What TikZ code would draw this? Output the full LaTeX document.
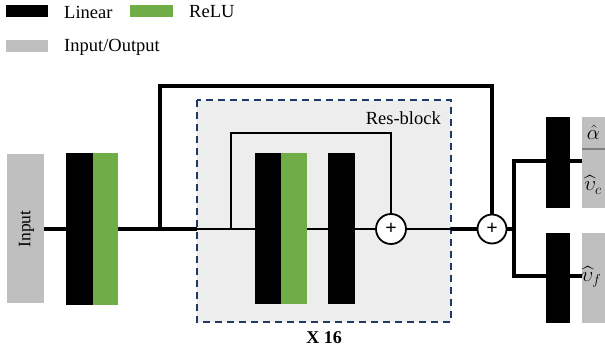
\documentclass[tikz,border=0pt]{standalone}
\usepackage{fontspec}
\setmainfont{Liberation Serif}
\usepackage{amsmath}
\begin{document}
\begin{tikzpicture}[x=1pt,y=-1pt,
  lin/.style={fill=black,draw=none},
  relu/.style={fill=reluGreen,draw=none},
  io/.style={fill=ioGray,draw=none},
  thick line/.style={line width=4.5pt},
  thin line/.style={line width=1.8pt},
  adder/.style={circle,draw=black,line width=1.8pt,fill=white,inner sep=0pt},
  plus/.style={font=\bfseries\fontsize{20}{22}\selectfont,inner sep=0pt},
  lbl/.style={font=\fontsize{18.5}{20}\selectfont,anchor=west,inner sep=0pt},
  mlbl/.style={font=\fontsize{19.5}{22}\selectfont,inner sep=0pt}]
\definecolor{reluGreen}{HTML}{70AD47}
\definecolor{ioGray}{HTML}{BFBFBF}
\definecolor{boxGray}{HTML}{EDEDED}
\definecolor{dashBlue}{HTML}{1F3864}
\useasboundingbox (0,0) rectangle (605,352);
% legend
\fill[lin] (6,5) rectangle (48,17);
\node[lbl] (tlin) at (64,12) {Linear};
\fill[relu] (130,5) rectangle (173,17);
\node[lbl] (trelu) at (189,12) {ReLU};
\fill[io] (6,40) rectangle (48,52);
\node[lbl] (tio) at (64,47) {Input/Output};
% res block background
\draw[fill=boxGray,draw=dashBlue,line width=1.8pt,dash pattern=on 7pt off 5pt] (197,100) rectangle (451,322);
\node[font=\fontsize{18.5}{20}\selectfont,anchor=east,inner sep=0pt] (rb) at (441,118) {Res-block};
\node[font=\bfseries\fontsize{18}{20}\selectfont,inner sep=0pt] (x16) at (324,338) {X 16};
% input
\fill[io] (7,154) rectangle (44,303);
\node[rotate=90,font=\fontsize{17.5}{20}\selectfont,inner sep=0pt] (inp) at (26.5,229) {Input};
% coordinates
\coordinate (inR) at (44,229);
\coordinate (l1L) at (66,229);
\coordinate (l1R) at (118,229);
\coordinate (br1) at (160,229);
\coordinate (br1t) at (160,86);
\coordinate (rbL) at (197,229);
\coordinate (rbR) at (451,229);
\coordinate (sk) at (231,229);
\coordinate (skt) at (231,133);
\coordinate (l2L) at (255,229);
\coordinate (l2R) at (307,229);
\coordinate (l3L) at (328,229);
\coordinate (l3R) at (355,229);
\coordinate (outv) at (514,229);
\coordinate (outt) at (514,161);
\coordinate (outb) at (514,276);
\coordinate (o1R) at (582,161);
\coordinate (o2R) at (582,276);
% adders
\node[adder,minimum size=30pt] (add1) at (391,229) {};
\node[adder,minimum size=29pt] (add2) at (492,229) {};
% connectors (drawn beneath blocks)
\draw[thick line] (inR) -- (l1L);
\draw[thick line] (l1R) -- (rbL);
\draw[thick line,line join=miter] (br1) -- (br1t) -| (add2.north);
\draw[thin line] (rbL) -- (l2L);
\draw[thin line] (l2R) -- (l3L);
\draw[thin line] (l3R) -- (add1.west);
\draw[thin line] (add1.east) -- (rbR);
\draw[thin line] (sk) -- (skt) -| (add1.north);
\draw[thick line] (rbR) -- (add2.west);
\draw[thick line] (add2.east) -- (outv);
\draw[thick line,line join=miter] (o1R) -- (outt) -- (outb) -- (o2R);
% blocks
\fill[lin] (66,153) rectangle (93,305);
\fill[relu] (93,153) rectangle (118,305);
\fill[lin] (255,153) rectangle (281,304);
\fill[relu] (281,153) rectangle (307,304);
\fill[lin] (328,153) rectangle (355,304);
\fill[lin] (546,117) rectangle (570,208);
\fill[lin] (546,233) rectangle (570,323);
% outputs
\fill[io] (582,117) rectangle (605,208);
\fill[io] (582,233) rectangle (605,323);
\draw[line width=1.5pt,draw=black!50] (582,149) -- (605,149);
\node[mlbl] (oa) at (593.5,132) {$\hat{\alpha}$};
\node[mlbl] (oc) at (593,185) {$\widehat{\upsilon}_{c}$};
\node[mlbl] (of) at (591.5,277) {$\widehat{\upsilon}_{f}$};
% plus signs
\node[plus] at (add1) {+};
\node[plus] at (add2) {+};
\end{tikzpicture}
\end{document}
